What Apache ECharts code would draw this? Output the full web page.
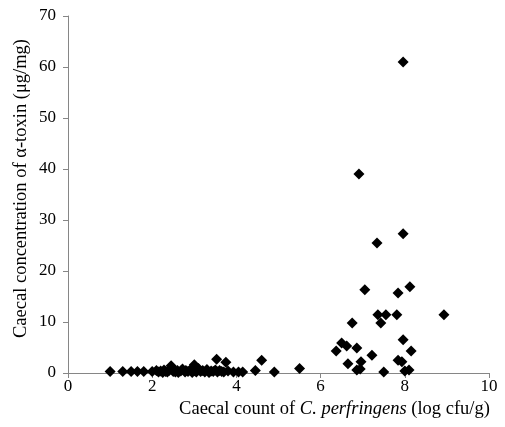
<!DOCTYPE html>
<html>
<head>
<meta charset="utf-8">
<script src="https://cdn.jsdelivr.net/npm/echarts@6/dist/echarts.min.js"></script>
<style>
  html, body { margin: 0; padding: 0; background: #fff; }
  #chart { width: 505px; height: 427px; }
</style>
</head>
<body>
<div id="chart"></div>
<script>
// caecal C. perfringens count (log cfu/g)
var countLog = [
  1.0, 1.3, 1.5, 1.65, 1.8, 2.0,
  2.1, 2.15, 2.2, 2.25, 2.28, 2.32, 2.36, 2.4, 2.45, 2.5, 2.52, 2.55, 2.6, 2.62,
  2.68, 2.72, 2.78, 2.8, 2.85, 2.9, 2.95, 3.0, 3.02, 3.05, 3.1, 3.15, 3.2, 3.25,
  3.3, 3.35, 3.4, 3.45, 3.5, 3.53, 3.55, 3.6, 3.65, 3.7, 3.75, 3.8,
  3.93, 4.05, 4.15, 4.45, 4.6, 4.9, 5.5,
  6.37, 6.5, 6.62, 6.86, 6.65, 6.96, 6.86, 6.94, 7.22, 7.5, 7.96, 8.15, 7.84, 7.93, 8.0, 8.1,
  6.91, 7.96, 7.34, 7.05, 8.12, 7.84, 7.36, 7.55, 7.81, 8.93, 6.75, 7.43, 7.96
];
// caecal alpha-toxin concentration (ug/mg)
var toxin = [
  0.3, 0.3, 0.3, 0.3, 0.3, 0.3,
  0.5, 0.2, 0.4, 0.1, 0.6, 0.3, 0.2, 0.5, 1.4, 0.3, 0.7, 0.2, 0.5, 0.1,
  0.4, 0.8, 0.2, 0.5, 0.3, 0.6, 0.1, 1.6, 0.4, 0.2, 0.9, 0.3, 0.5, 0.2,
  0.7, 0.1, 0.4, 0.3, 0.6, 2.7, 0.2, 0.5, 0.3, 0.2, 2.1, 0.4,
  0.2, 0.2, 0.2, 0.5, 2.5, 0.2, 0.9,
  4.3, 5.9, 5.3, 4.9, 1.8, 2.2, 0.6, 0.8, 3.5, 0.2, 6.5, 4.3, 2.5, 2.2, 0.4, 0.6,
  39.0, 27.3, 25.5, 16.3, 16.9, 15.7, 11.4, 11.4, 11.4, 11.4, 9.8, 9.8, 61.0
];
var xTicks = { min: 0, max: 10, step: 2 };
var yTicks = { min: 0, max: 70, step: 10 };

var points = [];
for (var i = 0; i < countLog.length; i++) {
  points.push([countLog[i], toxin[i]]);
}

var font = 'Liberation Serif';
var axisGrey = '#868686';

var chart = echarts.init(document.getElementById('chart'), null, { renderer: 'canvas' });
chart.setOption({
  animation: false,
  backgroundColor: '#ffffff',
  grid: { left: 68, right: 16, top: 16, bottom: 54 },
  xAxis: {
    type: 'value',
    min: xTicks.min, max: xTicks.max, interval: xTicks.step,
    splitLine: { show: false },
    axisLine: { lineStyle: { color: axisGrey, width: 1 } },
    axisTick: { show: true, inside: false, length: 5, lineStyle: { color: axisGrey } },
    axisLabel: { color: '#000', fontFamily: font, fontSize: 17, margin: 5 },
    name: '{n|Caecal count of }{i|C. perfringens}{n| (log cfu/g)}',
    nameLocation: 'middle',
    nameGap: 26,
    nameTextStyle: {
      padding: [0, 0, 0, 112],
      rich: {
        n: { fontFamily: font, fontSize: 18.5, color: '#000' },
        i: { fontFamily: font, fontSize: 18.5, color: '#000', fontStyle: 'italic' }
      }
    }
  },
  yAxis: {
    type: 'value',
    min: yTicks.min, max: yTicks.max, interval: yTicks.step,
    splitLine: { show: false },
    axisLine: { show: true, lineStyle: { color: axisGrey, width: 1 } },
    axisTick: { show: true, inside: false, length: 5, lineStyle: { color: axisGrey } },
    axisLabel: { color: '#000', fontFamily: font, fontSize: 17, margin: 12 },
    name: 'Caecal concentration of α-toxin (μg/mg)',
    nameLocation: 'middle',
    nameRotate: 90,
    nameGap: 37,
    nameMoveOverlap: false,
    nameTextStyle: { fontFamily: font, fontSize: 18.5, color: '#000', padding: [0, 0, 0, 12] }
  },
  series: [{
    type: 'scatter',
    symbol: 'diamond',
    symbolSize: 11,
    itemStyle: { color: '#000', opacity: 1 },
    data: points
  }]
});
</script>
</body>
</html>
